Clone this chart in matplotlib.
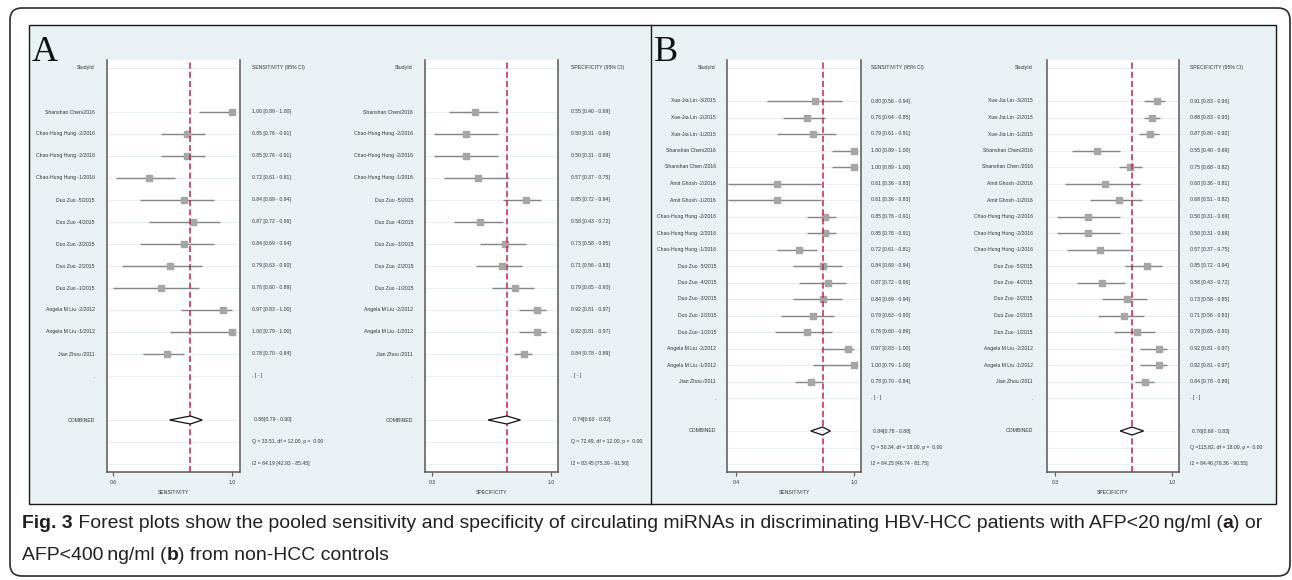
import matplotlib
matplotlib.use('Agg')
import matplotlib.pyplot as plt
from matplotlib import transforms, font_manager
from matplotlib.patches import FancyBboxPatch, Rectangle, Polygon

# ---------------- data ----------------
studies_A = ['Shanshan Chen/2016', 'Chao-Hung Hung -2/2016', 'Chao-Hung Hung -2/2016',
             'Chao-Hung Hung -1/2016', 'Duo Zuo -5/2015', 'Duo Zuo -4/2015', 'Duo Zuo -3/2015',
             'Duo Zuo -2/2015', 'Duo Zuo -1/2015', 'Angela M Liu -2/2012',
             'Angela M Liu -1/2012', 'Jian Zhou /2011']
sens_A = [1.00, 0.85, 0.85, 0.72, 0.84, 0.87, 0.84, 0.79, 0.76, 0.97, 1.00, 0.78]
sens_lo_A = [0.89, 0.76, 0.76, 0.61, 0.69, 0.72, 0.69, 0.63, 0.60, 0.83, 0.79, 0.70]
sens_hi_A = [1.00, 0.91, 0.91, 0.81, 0.94, 0.96, 0.94, 0.90, 0.89, 1.00, 1.00, 0.84]
spec_A = [0.55, 0.50, 0.50, 0.57, 0.85, 0.58, 0.73, 0.71, 0.79, 0.92, 0.92, 0.84]
spec_lo_A = [0.40, 0.31, 0.31, 0.37, 0.72, 0.43, 0.58, 0.56, 0.65, 0.81, 0.81, 0.78]
spec_hi_A = [0.69, 0.69, 0.69, 0.75, 0.94, 0.72, 0.85, 0.83, 0.90, 0.97, 0.97, 0.89]
sens_comb_A = [0.86, 0.79, 0.90]
spec_comb_A = [0.74, 0.63, 0.82]
sens_q_A = [33.51, 12.00, 0.00]
spec_q_A = [72.49, 12.00, 0.00]
sens_i2_A = [64.19, 42.93, 85.45]
spec_i2_A = [83.45, 75.39, 91.50]

studies_B = ['Xue-Jia Lin -3/2015', 'Xue-Jia Lin -2/2015', 'Xue-Jia Lin -1/2015',
             'Shanshan Chen/2016', 'Shanshan Chen /2016', 'Amit Ghosh -2/2016',
             'Amit Ghosh -1/2016', 'Chao-Hung Hung -2/2016', 'Chao-Hung Hung -2/2016',
             'Chao-Hung Hung -1/2016', 'Duo Zuo -5/2015', 'Duo Zuo -4/2015', 'Duo Zuo -3/2015',
             'Duo Zuo -2/2015', 'Duo Zuo -1/2015', 'Angela M Liu -2/2012',
             'Angela M Liu -1/2012', 'Jian Zhou /2011']
sens_B = [0.80, 0.76, 0.79, 1.00, 1.00, 0.61, 0.61, 0.85, 0.85, 0.72, 0.84, 0.87, 0.84,
          0.79, 0.76, 0.97, 1.00, 0.78]
sens_lo_B = [0.56, 0.64, 0.61, 0.89, 0.89, 0.36, 0.36, 0.76, 0.76, 0.61, 0.69, 0.72, 0.69,
             0.63, 0.60, 0.83, 0.79, 0.70]
sens_hi_B = [0.94, 0.85, 0.91, 1.00, 1.00, 0.83, 0.83, 0.91, 0.91, 0.81, 0.94, 0.96, 0.94,
             0.90, 0.89, 1.00, 1.00, 0.84]
spec_B = [0.91, 0.88, 0.87, 0.55, 0.75, 0.60, 0.68, 0.50, 0.50, 0.57, 0.85, 0.58, 0.73,
          0.71, 0.79, 0.92, 0.92, 0.84]
spec_lo_B = [0.83, 0.83, 0.80, 0.40, 0.68, 0.36, 0.51, 0.31, 0.31, 0.37, 0.72, 0.43, 0.58,
             0.56, 0.65, 0.81, 0.81, 0.78]
spec_hi_B = [0.96, 0.93, 0.92, 0.69, 0.82, 0.81, 0.82, 0.69, 0.69, 0.75, 0.94, 0.72, 0.85,
             0.83, 0.90, 0.97, 0.97, 0.89]
sens_comb_B = [0.84, 0.78, 0.88]
spec_comb_B = [0.76, 0.69, 0.83]
sens_q_B = [50.34, 18.00, 0.00]
spec_q_B = [115.82, 18.00, 0.00]
sens_i2_B = [64.25, 46.74, 81.75]
spec_i2_B = [84.46, 78.36, 90.55]

ticks_sens_A = [0.6, 1.0]
ticks_spec_A = [0.3, 1.0]
ticks_sens_B = [0.4, 1.0]
ticks_spec_B = [0.3, 1.0]

# ---------------- fonts ----------------
names = {f.name for f in font_manager.fontManager.ttflist}
if 'Liberation Sans Narrow' in names:
    small_family = ['Liberation Sans Narrow', 'DejaVu Sans']
    fs = 4.3
    cap_family = ['Liberation Sans Narrow', 'DejaVu Sans']
    cap_fs = 16
else:
    small_family = ['Liberation Sans', 'DejaVu Sans']
    fs = 3.7
    cap_family = ['Liberation Sans', 'DejaVu Sans']
    cap_fs = 13.95
plt.rcParams['font.family'] = small_family

W, H = 1292, 580
fig = plt.figure(figsize=(W / 100, H / 100), dpi=100)

# background axes in pixel units
bg = fig.add_axes([0, 0, 1, 1])
bg.set_xlim(0, W)
bg.set_ylim(H, 0)
bg.axis('off')

bg.add_patch(FancyBboxPatch((10, 8), 1280, 568, boxstyle='round,pad=0,rounding_size=12',
                            fc='white', ec='#2b2b2b', lw=1.2))
bg.add_patch(Rectangle((29, 25), 1247, 479, fc='#e8f1f3', ec='#1a1a1a', lw=1.0))
bg.plot([651, 651], [25, 504], color='#1a1a1a', lw=1.0)
bg.text(32, 61, 'A', family=['Liberation Serif', 'DejaVu Serif'], fontsize=26,
        va='baseline', ha='left', color='#111111')
bg.text(654, 61, 'B', family=['Liberation Serif', 'DejaVu Serif'], fontsize=26,
        va='baseline', ha='left', color='#111111')

# caption, pieces chained one after the other
def caption_line(x, y, pieces):
    prev = None
    for txt, bold in pieces:
        kw = dict(fontsize=cap_fs, family=cap_family, color='#231f20',
                  fontweight='bold' if bold else 'normal', va='bottom', ha='left')
        if prev is None:
            prev = bg.text(x, y, txt, **kw)
        else:
            prev = bg.annotate(txt, xy=(1, 0), xycoords=prev, **kw)

caption_line(22, 532, [('Fig. 3', True),
                       (' Forest plots show the pooled sensitivity and specificity of circulating '
                        'miRNAs in discriminating HBV-HCC patients with AFP<20\u2009ng/ml (', False),
                       ('a', True), (') or', False)])
caption_line(22, 564, [('AFP<400\u2009ng/ml (', False), ('b', True),
                       (') from non-HCC controls', False)])


def forest(x0, x1, t0, t1, ticks, studies, est, lo, hi, comb, q, i2,
           xlabel, header, lab_x, ci_x):
    n = len(studies)
    top, row0, rowN, bottom = 60, 68, 464, 472
    pitch = (rowN - row0) / (n + 6)
    ax = fig.add_axes([x0 / W, 1 - bottom / H, (x1 - x0) / W, (bottom - top) / H])
    ax.set_facecolor('white')
    scale = (ticks[1] - ticks[0]) / (t1 - t0)
    ax.set_xlim(ticks[0] - (t0 - x0) * scale, ticks[1] + (x1 - t1) * scale)
    ax.set_ylim((bottom - row0) / pitch, (top - row0) / pitch)

    rows = list(range(2, n + 2))
    dot_row, comb_row, q_row, i2_row = n + 2, n + 4, n + 5, n + 6
    for r in [0] + rows + [dot_row, comb_row, q_row, i2_row]:
        ax.axhline(r, color='#e8f0f3', lw=0.9, zorder=0)

    ax.hlines(rows, lo, hi, color='#858585', lw=1.0, zorder=2)
    ax.plot(est, rows, 's', ms=4.8, color='#a6a6a6', mec='#a6a6a6', zorder=3)
    ax.axvline(comb[0], color='#cc1f45', lw=1.1, ls=(0, (4, 2)), zorder=4)
    dh = 4.0 / pitch
    ax.add_patch(Polygon([(comb[1], comb_row), (comb[0], comb_row - dh),
                          (comb[2], comb_row), (comb[0], comb_row + dh)],
                         closed=True, fc='white', ec='#111111', lw=0.9, zorder=5))

    for s in ['left', 'right', 'bottom']:
        ax.spines[s].set_color('#595959')
        ax.spines[s].set_linewidth(1.1)
    ax.spines['top'].set_visible(False)
    ax.set_yticks([])
    ax.set_xticks(ticks)
    ax.set_xticklabels([f'{t:.1f}' for t in ticks])
    ax.tick_params(axis='x', direction='out', length=3, width=0.8, color='#595959',
                   labelsize=fs, pad=2.5, labelcolor='#333333')
    ax.set_xlabel(xlabel, fontsize=fs, labelpad=3.5, color='#333333')

    tr = transforms.blended_transform_factory(fig.transFigure, ax.transData)
    kw_l = dict(transform=tr, ha='right', va='center', fontsize=fs, color='#333333', clip_on=False)
    kw_r = dict(transform=tr, ha='left', va='center', fontsize=fs, color='#333333', clip_on=False)
    ax.text(lab_x / W, 0, 'StudyId', **kw_l)
    ax.text(ci_x / W, 0, header, **kw_r)
    for r, name, e, a, b in zip(rows, studies, est, lo, hi):
        ax.text(lab_x / W, r, name, **kw_l)
        ax.text(ci_x / W, r, f'{e:.2f} [{a:.2f} - {b:.2f}]', **kw_r)
    ax.text(lab_x / W, dot_row, '.', **kw_l)
    ax.text(ci_x / W, dot_row, '. [ - ]', **kw_r)
    ax.text(lab_x / W, comb_row, 'COMBINED', **kw_l)
    ax.text(ci_x / W + 2 / W, comb_row, f'{comb[0]:.2f}[{comb[1]:.2f} - {comb[2]:.2f}]', **kw_r)
    ax.text(ci_x / W, q_row, f'Q ={q[0]:6.2f}, df = {q[1]:.2f}, p = {q[2]:5.2f}', **kw_r)
    ax.text(ci_x / W, i2_row, f'I2 = {i2[0]:.2f} [{i2[1]:.2f} - {i2[2]:.2f}]', **kw_r)
    return ax


forest(107, 240, 113, 232, ticks_sens_A, studies_A, sens_A, sens_lo_A, sens_hi_A,
       sens_comb_A, sens_q_A, sens_i2_A, 'SENSITIVITY', 'SENSITIVITY (95% CI)', 95, 252)
forest(425, 558, 432, 551, ticks_spec_A, studies_A, spec_A, spec_lo_A, spec_hi_A,
       spec_comb_A, spec_q_A, spec_i2_A, 'SPECIFICITY', 'SPECIFICITY (95% CI)', 413, 571)
forest(727, 861, 736, 854, ticks_sens_B, studies_B, sens_B, sens_lo_B, sens_hi_B,
       sens_comb_B, sens_q_B, sens_i2_B, 'SENSITIVITY', 'SENSITIVITY (95% CI)', 716, 871)
forest(1047, 1179, 1055, 1172, ticks_spec_B, studies_B, spec_B, spec_lo_B, spec_hi_B,
       spec_comb_B, spec_q_B, spec_i2_B, 'SPECIFICITY', 'SPECIFICITY (95% CI)', 1033, 1190)

fig.savefig('out.png', dpi=100)
